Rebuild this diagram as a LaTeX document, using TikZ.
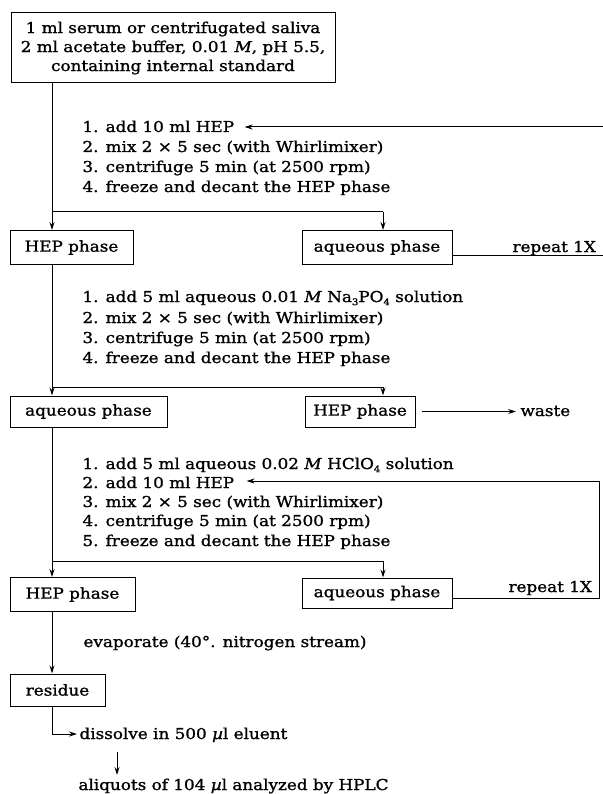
\documentclass[tikz,border=0pt]{standalone}
\usepackage{fontspec}
\setmainfont{DejaVu Serif}[FakeStretch=1.12,FakeBold=1.2]
\usetikzlibrary{arrows.meta}
\newcommand{\fs}{\fontsize{15}{19}\selectfont}
\newcommand{\mysub}[1]{\raisebox{-0.4ex}{\fontsize{9}{9}\selectfont #1}}
\begin{document}
\begin{tikzpicture}[x=1pt,y=-1pt,
  line width=1pt,
  box/.style={draw, inner sep=0pt, minimum height=34pt, font=\fs},
  txt/.style={inner sep=0pt, anchor=base west, font=\fs},
  arr/.style={-{Stealth[length=8pt,width=5pt]}}]
\useasboundingbox (0,0) rectangle (602,794);
% top box
\node[box, minimum width=324pt, minimum height=70pt, align=center] (top) at (173,48)
  {1 ml serum or centrifugated saliva\\2 ml acetate buffer, 0.01 \textit{M}, pH 5.5,\\containing internal standard};
% steps 1
\node[txt] (a1) at (82,132) {1. add 10 ml HEP};
\node[txt] (a2) at (82,152) {2. mix 2 × 5 sec (with Whirlimixer)};
\node[txt] (a3) at (82,172) {3. centrifuge 5 min (at 2500 rpm)};
\node[txt] (a4) at (82,192) {4. freeze and decant the HEP phase};
% row 1
\node[box, minimum width=123pt] (hep1) at (71.5,247.5) {HEP phase};
\node[box, minimum width=150pt] (aq1) at (377,247.5) {aqueous phase};
\node[txt] (rep1) at (512,252) {repeat 1X};
% steps 2
\node[txt] (b1) at (82,302) {1. add 5 ml aqueous 0.01 \textit{M} Na\mysub{3}PO\mysub{4} solution};
\node[txt] (b2) at (82,323) {2. mix 2 × 5 sec (with Whirlimixer)};
\node[txt] (b3) at (82,343) {3. centrifuge 5 min (at 2500 rpm)};
\node[txt] (b4) at (82,363) {4. freeze and decant the HEP phase};
% row 2
\node[box, minimum width=157pt, minimum height=31pt] (aq2) at (88.5,411.5) {aqueous phase};
\node[box, minimum width=110pt, minimum height=31pt] (hep2) at (360,411.5) {HEP phase};
\node[txt] (waste) at (520,416) {waste};
% steps 3
\node[txt] (c1) at (82,469) {1. add 5 ml aqueous 0.02 \textit{M} HClO\mysub{4} solution};
\node[txt] (c2) at (82,488) {2. add 10 ml HEP};
\node[txt] (c3) at (82,507) {3. mix 2 × 5 sec (with Whirlimixer)};
\node[txt] (c4) at (82,526) {4. centrifuge 5 min (at 2500 rpm)};
\node[txt] (c5) at (82,546) {5. freeze and decant the HEP phase};
% row 3
\node[box, minimum width=125pt] (hep3) at (72.5,594.5) {HEP phase};
\node[box, minimum width=150pt, minimum height=30pt] (aq3) at (377,593) {aqueous phase};
\node[txt] (rep3) at (508,592) {repeat 1X};
\node[txt] (evap) at (83,647) {evaporate (40°. nitrogen stream)};
\node[box, minimum width=95pt, minimum height=32pt] (res) at (57.5,690) {residue};
\node[txt] (dis) at (79,739) {dissolve in 500 \textit{µ}l eluent};
\node[txt] (ali) at (78,790) {aliquots of 104 \textit{µ}l analyzed by HPLC};
% connectors
\coordinate (j1) at (52,212); \coordinate (k1) at (383,212);
\draw (top.south -| j1) -- (j1) -- (k1);
\draw[arr] (j1) -- (j1 |- hep1.north);
\draw[arr] (k1) -- (k1 |- aq1.north);
\coordinate (l1a) at (606,255); \coordinate (l1b) at (606,127);
\draw[arr] (aq1.east |- l1a) -- (l1a) -- (l1b) -- ([xshift=10pt]a1.east |- l1b);
\coordinate (j2) at (52,387); \coordinate (k2) at (383,387);
\draw (hep1.south -| j2) -- (j2) -- (k2);
\draw[arr] (j2) -- (j2 |- aq2.north);
\draw[arr] (k2) -- (k2 |- hep2.north);
\draw[arr, shorten >=4pt, shorten <=6pt] (hep2.east) -- (waste.west |- hep2.east);
\coordinate (j3) at (52,561); \coordinate (k3) at (383,561);
\draw (aq2.south -| j3) -- (j3) -- (k3);
\draw[arr] (j3) -- (j3 |- hep3.north);
\draw[arr] (k3) -- (k3 |- aq3.north);
\coordinate (l3a) at (599,598); \coordinate (l3b) at (599,481);
\draw[arr] (aq3.east |- l3a) -- (l3a) -- (l3b) -- ([xshift=12pt]c2.east |- l3b);
\draw[arr] (hep3.south -| j3) -- (res.north -| j3);
\coordinate (d1) at (52,734);
\draw[arr, shorten >=2pt] (res.south -| d1) -- (d1) -- (dis.west |- d1);
\coordinate (e1) at (117,752); \coordinate (e2) at (117,775);
\draw[arr] (e1) -- (e2);
\end{tikzpicture}
\end{document}
